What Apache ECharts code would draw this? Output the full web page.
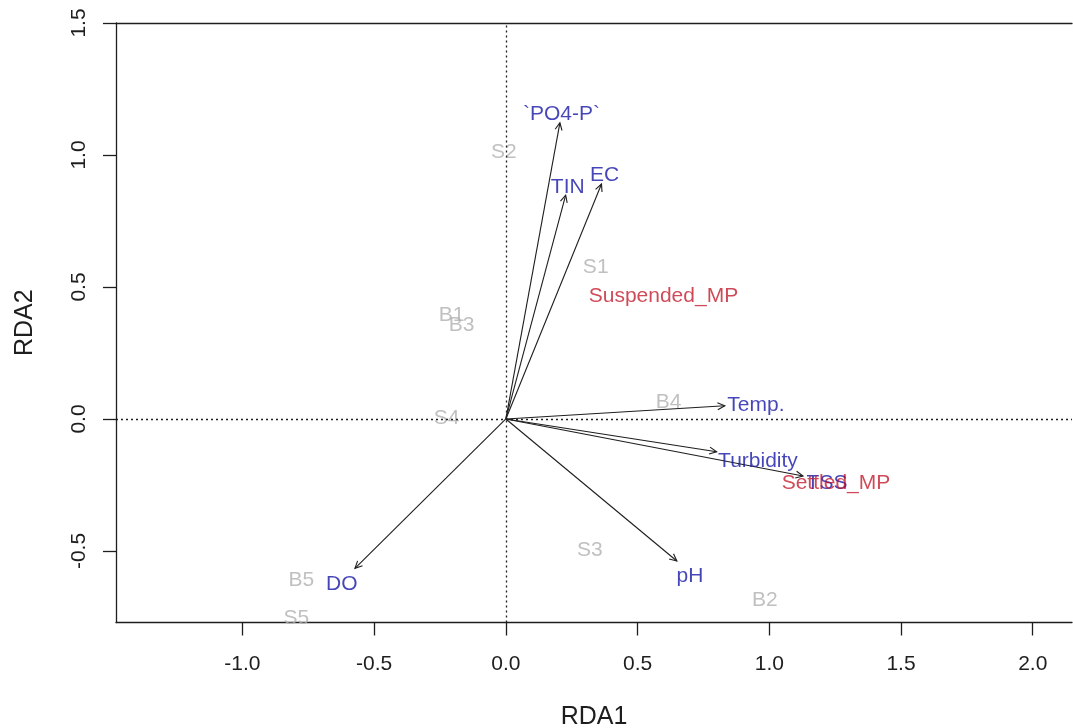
<!DOCTYPE html>
<html>
<head>
<meta charset="utf-8">
<script src="https://cdn.jsdelivr.net/npm/echarts@6/dist/echarts.min.js"></script>
<style>
html,body{margin:0;padding:0;background:#fff;}
#chart{width:1073px;height:728px;}
</style>
</head>
<body>
<div id="chart"></div>
<script>
// ---- data ----
const xTicks = [-1.0, -0.5, 0.0, 0.5, 1.0, 1.5, 2.0];
const yTicks = [-0.5, 0.0, 0.5, 1.0, 1.5];

// sample (site) scores
const siteNames = ['S2', 'S1', 'B1', 'B3', 'S4', 'B4', 'S3', 'B2', 'B5', 'S5'];
const siteX = [-0.008, 0.341, -0.206, -0.168, -0.225, 0.618, 0.319, 0.983, -0.776, -0.795];
const siteY = [1.019, 0.583, 0.400, 0.362, 0.009, 0.072, -0.489, -0.678, -0.603, -0.749];

// environmental variable arrows (tips) and label positions
const envNames = ['`PO4-P`', 'TIN', 'EC', 'Temp.', 'Turbidity', 'TSS', 'pH', 'DO'];
const envTipX = [0.205, 0.227, 0.363, 0.831, 0.800, 1.128, 0.649, -0.573];
const envTipY = [1.122, 0.848, 0.890, 0.050, -0.124, -0.216, -0.538, -0.566];
const envLabX = [0.211, 0.235, 0.375, 0.949, 0.957, 1.219, 0.699, -0.623];
const envLabY = [1.163, 0.886, 0.931, 0.059, -0.153, -0.237, -0.587, -0.617];

// response variables (species scores)
const respNames = ['Suspended_MP', 'Settled_MP'];
const respX = [0.598, 1.253];
const respY = [0.473, -0.237];

// ---- chart ----
const FONT = 'Liberation Sans, Arial, sans-serif';
const INK = '#1e1e1e';

function pts(names, xs, ys) {
  return names.map((n, i) => ({ name: n, value: [xs[i], ys[i]] }));
}

const chart = echarts.init(document.getElementById('chart'), null, { renderer: 'canvas' });

const xMin = -1.48, xMax = 2.149, yMin = -0.771, yMax = 1.5;

chart.setOption({
  animation: false,
  backgroundColor: '#fff',
  textStyle: { fontFamily: FONT },
  grid: { left: 116, top: 23, right: 1, bottom: 105.5, containLabel: false, outerBoundsMode: 'none' },
  xAxis: [
    {
      type: 'value', position: 'bottom', min: xMin, max: xMax,
      name: 'RDA1', nameLocation: 'middle', nameGap: 82,
      nameTextStyle: { fontSize: 25, color: INK, fontFamily: FONT },
      axisLine: { show: true, onZero: false, lineStyle: { color: INK, width: 1.3 } },
      axisTick: { show: true, inside: false, length: 13, customValues: xTicks, lineStyle: { color: INK, width: 1.3 } },
      axisLabel: { show: true, margin: 31, fontSize: 21, color: INK, fontFamily: FONT,
        customValues: xTicks, formatter: v => v.toFixed(1) },
      splitLine: { show: false }
    },
    {
      type: 'value', position: 'top', min: xMin, max: xMax,
      axisLine: { show: true, onZero: false, lineStyle: { color: INK, width: 1.3 } },
      axisTick: { show: false }, axisLabel: { show: false }, splitLine: { show: false }
    }
  ],
  yAxis: [
    {
      type: 'value', position: 'left', min: yMin, max: yMax,
      name: 'RDA2', nameLocation: 'middle', nameGap: 78, nameRotate: 90,
      nameTextStyle: { fontSize: 25, color: INK, fontFamily: FONT },
      axisLine: { show: true, onZero: false, lineStyle: { color: INK, width: 1.3 } },
      axisTick: { show: true, inside: false, length: 13, customValues: yTicks, lineStyle: { color: INK, width: 1.3 } },
      axisLabel: { show: true, margin: 26, rotate: 90, fontSize: 21, color: INK, fontFamily: FONT,
        customValues: yTicks, formatter: v => v.toFixed(1) },
      splitLine: { show: false }
    }
  ],
  series: [
    {
      type: 'scatter', name: 'sites', xAxisIndex: 0, yAxisIndex: 0,
      symbolSize: 0, silent: true,
      data: pts(siteNames, siteX, siteY),
      label: { show: true, position: 'inside', offset: [0, 2], formatter: '{b}', fontSize: 21, color: '#b0b0b0', fontFamily: FONT },
      markLine: {
        silent: true, symbol: ['none', 'none'], label: { show: false },
        lineStyle: { type: [2, 3], color: INK, width: 1.3 },
        data: [{ xAxis: 0 }, { yAxis: 0 }]
      }
    },
    {
      type: 'custom', name: 'arrows', xAxisIndex: 0, yAxisIndex: 0, silent: true, clip: false,
      data: envTipX.map((x, i) => [x, envTipY[i]]),
      renderItem: function (params, api) {
        const o = api.coord([0, 0]);
        const t = api.coord([api.value(0), api.value(1)]);
        const ang = Math.atan2(t[1] - o[1], t[0] - o[0]);
        const L = 8, a = Math.PI / 7;
        const h1 = [t[0] - L * Math.cos(ang - a), t[1] - L * Math.sin(ang - a)];
        const h2 = [t[0] - L * Math.cos(ang + a), t[1] - L * Math.sin(ang + a)];
        return {
          type: 'group',
          children: [
            { type: 'line', shape: { x1: o[0], y1: o[1], x2: t[0], y2: t[1] }, style: { stroke: INK, lineWidth: 1.1 } },
            { type: 'polyline', shape: { points: [h1, t, h2] }, style: { stroke: INK, fill: null, lineWidth: 1.1 } }
          ]
        };
      }
    },
    {
      type: 'scatter', name: 'env', xAxisIndex: 0, yAxisIndex: 0,
      symbolSize: 0, silent: true,
      data: pts(envNames, envLabX, envLabY),
      label: { show: true, position: 'inside', offset: [0, 2], formatter: '{b}', fontSize: 21, color: '#1818a8', fontFamily: FONT }
    },
    {
      type: 'scatter', name: 'resp', xAxisIndex: 0, yAxisIndex: 0,
      symbolSize: 0, silent: true,
      data: pts(respNames, respX, respY),
      label: { show: true, position: 'inside', offset: [0, 2], formatter: '{b}', fontSize: 21, color: 'rgba(190,10,30,0.92)', fontFamily: FONT }
    }
  ]
});
</script>
</body>
</html>
